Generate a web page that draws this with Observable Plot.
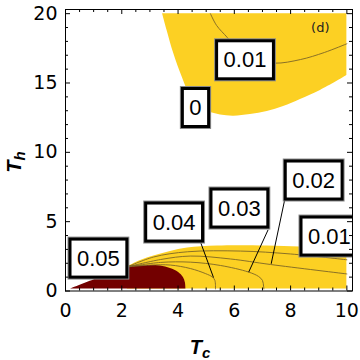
<!DOCTYPE html>
<html><head><meta charset="utf-8">
<script src="https://cdn.jsdelivr.net/npm/d3@7"></script>
<script src="https://cdn.jsdelivr.net/npm/@observablehq/plot@0.6"></script>
<style>body{margin:0;background:#fff} svg{display:block}</style>
</head><body><div id="chart"></div>
<script>
// ---- data ----
const tcMax = 10, thMax = 20, thMin = 0.15;
// upper yellow region: lower boundary (contour 0)
const upperZeroX = [3.45,3.61,3.85,4.15,4.44,4.80,5.09,5.51,5.98,6.57,7.17,7.75,8.35,9.06,10];
const upperZeroY = [20,18.79,17.11,15.42,14.10,13.38,12.94,12.69,12.61,12.73,12.94,13.3,13.81,14.46,15.54];
// upper 0.01 contour
const upperC1X = [5.15,5.37,5.75,6.04,6.57,7.43,8.35,9.2,10];
const upperC1Y = [20,19.15,18.28,17.56,16.77,16.43,16.69,17.2,17.83];
// lower yellow region: upper boundary (contour 0)
const lowerZeroX = [2.2,2.67,3.2,3.73,4.34,5.4,7.18,8.35,10];
const lowerZeroY = [1.74,2.2,2.56,2.85,3.1,3.25,3.25,3.17,3.1];
// dark red region (> 0.05): upper boundary
const redX = [0.18,1.0,2.2,2.67,3.02,3.38,3.73,4.02,4.19,4.26,4.28];
const redY = [0.15,0.8,1.74,1.8,1.84,1.8,1.62,1.33,0.97,0.6,0.15];
// lower contours
const c01X = [2.2,3.13,4.34,6.22,8.0,10];
const c01Y = [1.74,2.45,2.83,2.88,2.67,2.25];
const c02X = [2.2,3.38,4.44,5.86,7.29,10];
const c02Y = [1.74,2.27,2.52,2.31,1.91,1.23];
const c03X = [2.2,3.38,4.44,5.51,6.5,6.86,7.0,7.04,7.05];
const c03Y = [1.74,2.06,2.08,1.84,1.37,1.05,0.76,0.35,0.15];
const c04X = [2.2,3.02,3.73,4.44,4.97,5.22,5.31,5.33];
const c04Y = [1.74,1.87,1.87,1.62,1.26,1.01,0.76,0.15];
// contour labels
const labelText = ["0.05","0.04","0.03","0.02","0.01","0.01","0"];
const labelX = [1.17,3.86,6.18,8.82,9.38,6.38,4.62];
const labelY = [2.34,4.94,5.95,7.97,3.93,16.64,13.2];
// leader lines
const leaderX1 = [4.80,7.20,7.79], leaderY1 = [3.52,4.41,6.58];
const leaderX2 = [5.26,6.51,7.31], leaderY2 = [0.97,1.36,1.96];
// ticks
const xMajor = [0,2,4,6,8,10];
const xMinor = [0.5,1,1.5,2.5,3,3.5,4.5,5,5.5,6.5,7,7.5,8.5,9,9.5];
const yMajor = [0,5,10,15,20];
const yMinor = [1,2,3,4,6,7,8,9,11,12,13,14,16,17,18,19];

const zip = (xs, ys) => xs.map((x, i) => ({x, y: ys[i]}));
const upperZero = zip(upperZeroX, upperZeroY);
const lowerZero = zip(lowerZeroX, lowerZeroY);
const red = zip(redX, redY);
const contours = [
  ...zip(upperC1X, upperC1Y).map(d => ({...d, k: "u01"})),
  ...zip(c01X, c01Y).map(d => ({...d, k: "01"})),
  ...zip(c02X, c02Y).map(d => ({...d, k: "02"})),
  ...zip(c03X, c03Y).map(d => ({...d, k: "03"})),
  ...zip(c04X, c04Y).map(d => ({...d, k: "04"}))
];
const labels = labelText.map((t, i) => ({t, x: labelX[i], y: labelY[i]}));
const leaders = leaderX1.map((x, i) => ({x1: x, y1: leaderY1[i], x2: leaderX2[i], y2: leaderY2[i]}));

const W = 360, H = 360, mL = 65, mR = 8, mT = 9, mB = 69.5;
const FW = W - mL - mR, FH = H - mT - mB;
const yellow = "#fcd023", darkred = "#730000", cline = "#7d6626";

const svg = Plot.plot({
  width: W, height: H,
  marginLeft: mL, marginRight: mR, marginTop: mT, marginBottom: mB,
  x: {domain: [0, 10.2]},
  y: {domain: [0, 20.3]},
  style: {fontFamily: "DejaVu Sans", fontSize: "19px", background: "white", color: "black"},
  marks: [
    Plot.areaY(upperZero, {x: "x", y1: "y", y2: () => thMax, fill: yellow, curve: "catmull-rom"}),
    Plot.areaY(lowerZero, {x: "x", y1: () => thMin, y2: "y", fill: yellow, curve: "catmull-rom"}),
    Plot.areaY(red, {x: "x", y1: () => thMin, y2: "y", fill: darkred, curve: "catmull-rom"}),
    Plot.line(contours, {x: "x", y: "y", z: "k", stroke: cline, strokeWidth: 1, strokeOpacity: 0.9, curve: "catmull-rom"}),
    Plot.link(leaders, {x1: "x1", y1: "y1", x2: "x2", y2: "y2", stroke: "black", strokeWidth: 1}),
    Plot.text(labels, {x: "x", y: "y", text: "t", fontSize: 22, fontFamily: "Liberation Sans", fill: "black", className: "clabels"}),
    Plot.text(["(d)"], {frameAnchor: "top-right", dx: -23, dy: 13, fontSize: 13, fontFamily: "DejaVu Sans", fill: "#222"}),
    // ticks (inward, all four sides)
    Plot.ruleX(xMajor, {x: d => d, insetTop: FH - 5, stroke: "black"}),
    Plot.ruleX(xMinor, {x: d => d, insetTop: FH - 3, stroke: "black"}),
    Plot.ruleX(xMajor, {x: d => d, insetBottom: FH - 5, stroke: "black"}),
    Plot.ruleX(xMinor, {x: d => d, insetBottom: FH - 3, stroke: "black"}),
    Plot.ruleY(yMajor, {y: d => d, insetRight: FW - 5, stroke: "black"}),
    Plot.ruleY(yMinor, {y: d => d, insetRight: FW - 3, stroke: "black"}),
    Plot.ruleY(yMajor, {y: d => d, insetLeft: FW - 5, stroke: "black"}),
    Plot.ruleY(yMinor, {y: d => d, insetLeft: FW - 3, stroke: "black"}),
    Plot.frame({stroke: "black", strokeWidth: 1}),
    Plot.axisX({ticks: xMajor, tickSize: 0, tickPadding: 12, label: null, fontSize: 19}),
    Plot.axisY({ticks: yMajor, tickSize: 0, tickPadding: 8, label: null, fontSize: 19})
  ]
});
document.getElementById("chart").append(svg);

const NS = "http://www.w3.org/2000/svg";
// clip path for labels (plot frame)
const defs = document.createElementNS(NS, "defs");
defs.innerHTML = `<clipPath id="frameclip"><rect x="${mL}" y="${mT}" width="${FW}" height="${FH}"/></clipPath>`;
svg.insertBefore(defs, svg.firstChild);

// boxes behind contour labels
const lg = svg.querySelector("g.clabels");
if (lg) {
  lg.setAttribute("clip-path", "url(#frameclip)");
  lg.querySelectorAll("text").forEach(t => {
    const b = t.getBBox();
    const cx = b.x + b.width / 2, cy = b.y + b.height / 2;
    const w = b.width + 14, h = 38;
    for (const [sw, col] of [[5, "#8a8a8a"], [3, "black"]]) {
      const r = document.createElementNS(NS, "rect");
      r.setAttribute("x", cx - w / 2); r.setAttribute("y", cy - h / 2);
      r.setAttribute("width", w); r.setAttribute("height", h);
      r.setAttribute("fill", "white"); r.setAttribute("stroke", col); r.setAttribute("stroke-width", sw);
      const tr = t.getAttribute("transform");
      if (tr) r.setAttribute("transform", tr);
      t.parentNode.insertBefore(r, t);
    }
  });
}
// keep frame and ticks above the labels
svg.querySelectorAll("g[aria-label='frame'], g[aria-label='rule']").forEach(g => svg.append(g));

// axis titles with subscripts
const xt = document.createElementNS(NS, "text");
xt.setAttribute("x", 200); xt.setAttribute("y", H - 6);
xt.setAttribute("font-family", "Liberation Sans"); xt.setAttribute("font-weight", "bold");
xt.setAttribute("font-style", "italic"); xt.setAttribute("font-size", 20);
xt.innerHTML = '<tspan>T</tspan><tspan dy="4" font-size="15">c</tspan>';
svg.append(xt);
const yt = document.createElementNS(NS, "text");
yt.setAttribute("transform", "translate(21,162) rotate(-90)");
yt.setAttribute("font-family", "Liberation Sans"); yt.setAttribute("font-weight", "bold");
yt.setAttribute("font-style", "italic"); yt.setAttribute("font-size", 20);
yt.innerHTML = '<tspan>T</tspan><tspan dy="4" font-size="15">h</tspan>';
svg.append(yt);
</script>
</body></html>
